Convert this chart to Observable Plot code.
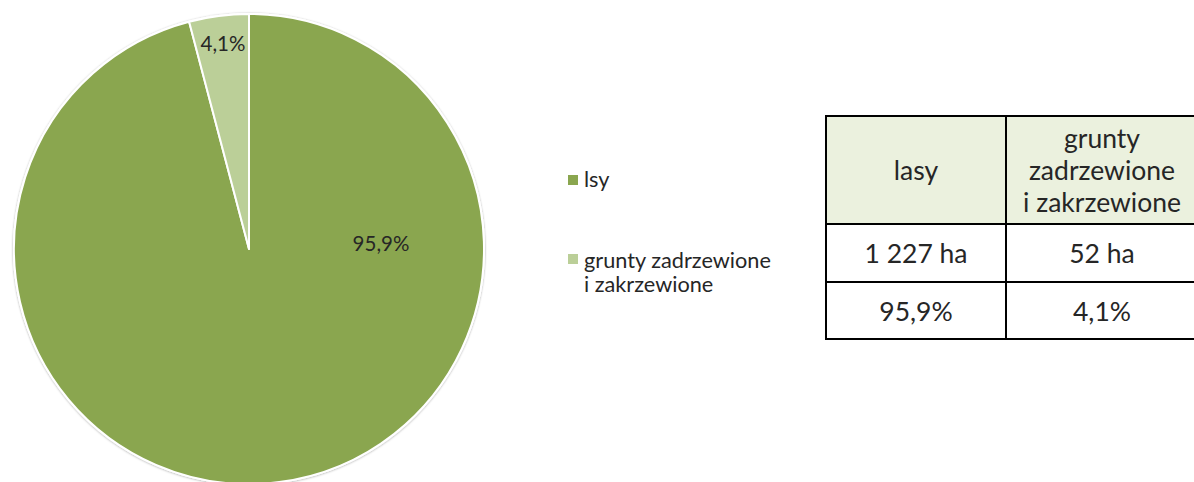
<!DOCTYPE html>
<html><head><meta charset="utf-8">
<script src="https://cdn.jsdelivr.net/npm/d3@7"></script>
<script src="https://cdn.jsdelivr.net/npm/@observablehq/plot@0.6"></script>
<style>
body{margin:0;background:#fff;}
#wrap{position:relative;width:1194px;height:482px;overflow:hidden;font-family:Lato,"Open Sans",sans-serif;color:#262626;}
#chart{position:absolute;left:0;top:0;}
.sw{position:absolute;left:568px;width:10px;height:10px;}
.tx{position:absolute;left:584px;white-space:pre;font-size:21.7px;line-height:24px;}
.cell{position:absolute;box-sizing:border-box;border:2px solid #000;display:flex;align-items:center;justify-content:center;text-align:center;font-size:26.5px;line-height:32px;white-space:pre;}
</style></head><body><div id="wrap"><div id="chart"></div></div>
<script>
// ---- data ----
const categories = ["lasy", "grunty zadrzewione i zakrzewione"];
const shares = [95.9, 4.1];
const shareLabels = ["95,9%", "4,1%"];
const areaLabels = ["1 227 ha", "52 ha"];
const legendLabels = ["lsy", "grunty zadrzewione\ni zakrzewione"];
const tableHeaders = ["lasy", "grunty\nzadrzewione\ni zakrzewione"];
const colors = ["#8aa64f", "#bbcf98"];

const data = categories.map((c, i) => ({category: c, share: shares[i], label: shareLabels[i]}));
const color = Plot.scale({color: {type: "ordinal", domain: categories, range: colors}});
const arcs = d3.pie().sort(null).value(d => d.share)(data);

// label placement (unit circle coords): small slice at its mid-angle, large slice to the right
const labelData = arcs.map(a => {
  const big = a.data.share > 50;
  const ang = big ? Math.PI / 2 - 0.04 : (a.startAngle + a.endAngle) / 2;
  const rr = big ? 0.56 : 0.88;
  return {x: rr * Math.sin(ang), y: rr * Math.cos(ang), text: a.data.label};
});

function pieMark(index, scales) {
  const cx = scales.x(0), cy = scales.y(0), r = scales.x(1) - scales.x(0);
  const arc = d3.arc().innerRadius(0).outerRadius(r);
  const g = d3.create("svg:g");
  const defs = g.append("defs");
  const f = defs.append("filter").attr("id", "sh").attr("x", "-10%").attr("y", "-10%").attr("width", "120%").attr("height", "120%");
  f.append("feDropShadow").attr("dx", 0).attr("dy", 0.5).attr("stdDeviation", 1.2).attr("flood-color", "#000").attr("flood-opacity", 0.35);
  const gg = g.append("g").attr("transform", `translate(${cx},${cy})`);
  gg.append("circle").attr("r", r + 1).attr("fill", "#fff").attr("filter", "url(#sh)");
  gg.selectAll("path").data(arcs).join("path")
    .attr("d", arc)
    .attr("fill", d => color.apply(d.data.category))
    .attr("stroke", "#fff").attr("stroke-width", 2).attr("stroke-linejoin", "round");
  return g.node();
}

const chart = Plot.plot({
  width: 1194, height: 482, margin: 0,
  x: {domain: [-1, 1], range: [14, 484], axis: null},
  y: {domain: [-1, 1], range: [484, 14], axis: null},
  marks: [
    pieMark,
    Plot.text(labelData, {x: "x", y: "y", text: "text", fill: "#262626", fontSize: 20.5, fontFamily: "Lato, 'Open Sans', sans-serif"})
  ]
});
document.getElementById("chart").appendChild(chart);

const wrap = document.getElementById("wrap");
// legend
const swTops = [175, 254];
const txTops = [166.5, 247.5];
legendLabels.forEach((t, i) => {
  const s = document.createElement("div");
  s.className = "sw";
  s.style.top = swTops[i] + "px";
  s.style.background = color.apply(categories[i]);
  wrap.appendChild(s);
  const d = document.createElement("div");
  d.className = "tx";
  d.style.top = txTops[i] + "px";
  d.textContent = t;
  wrap.appendChild(d);
});
// table
const colX = [825, 1005, 1197];
const rowY = [115, 223, 281, 338];
const rows = [tableHeaders, areaLabels, shareLabels];
rows.forEach((row, ri) => {
  row.forEach((t, ci) => {
    const d = document.createElement("div");
    d.className = "cell";
    d.style.left = colX[ci] + "px";
    d.style.top = rowY[ri] + "px";
    d.style.width = (colX[ci + 1] - colX[ci] + 2) + "px";
    d.style.height = (rowY[ri + 1] - rowY[ri] + 2) + "px";
    if (ri === 0) d.style.background = "#ebf1de";
    d.textContent = t;
    wrap.appendChild(d);
  });
});
</script>
</body></html>
